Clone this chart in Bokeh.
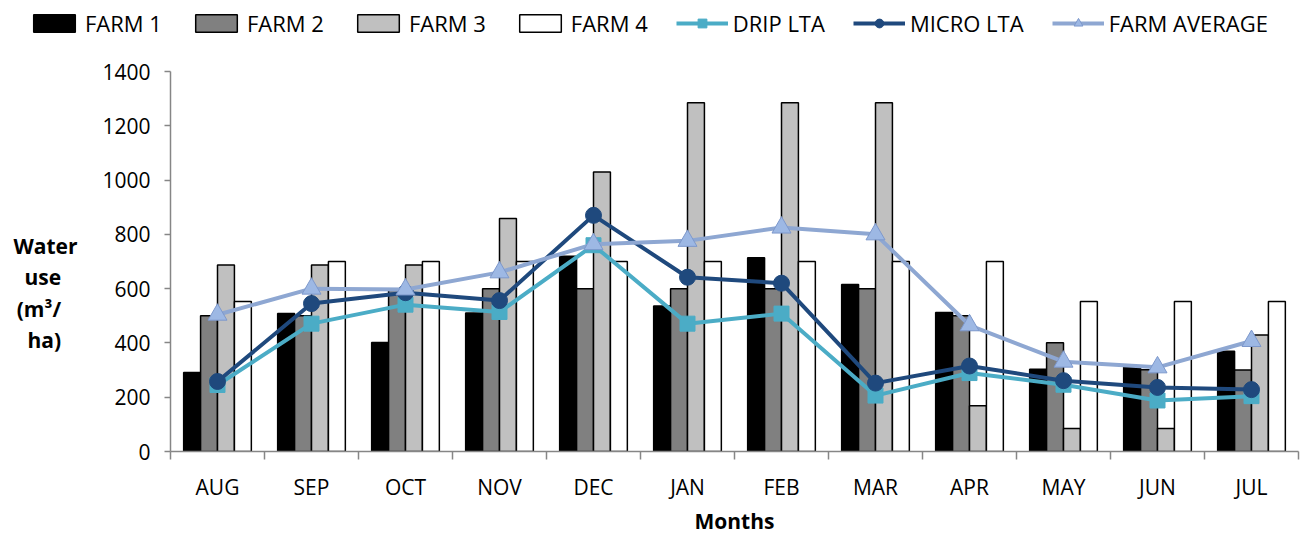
import numpy as np
from bokeh.plotting import figure
from bokeh.layouts import column
from bokeh.models import Range1d, FixedTicker, Legend, LegendItem
from bokeh.embed import file_html
from bokeh.resources import INLINE

months = ["AUG", "SEP", "OCT", "NOV", "DEC", "JAN", "FEB", "MAR", "APR", "MAY", "JUN", "JUL"]
farm1 = [291, 508, 402, 510, 719, 536, 714, 615, 512, 303, 310, 369]
farm2 = [500, 500, 600, 600, 600, 600, 600, 600, 500, 401, 301, 300]
farm3 = [687, 687, 687, 858, 1030, 1285, 1285, 1285, 169, 85, 85, 429]
farm4 = [553, 700, 700, 700, 700, 700, 700, 700, 700, 553, 553, 553]
drip_lta = [245, 471, 541, 514, 760, 471, 508, 206, 289, 246, 188, 204]
micro_lta = [258, 545, 585, 556, 870, 642, 620, 252, 315, 261, 236, 228]
farm_avg = [504, 600, 597, 660, 764, 776, 825, 800, 465, 331, 310, 407]
y_ticks = [0, 200, 400, 600, 800, 1000, 1200, 1400]
NB = "\u00a0"
# y title lines (trailing no-break spaces centre the right-aligned lines; leading blank lines shift it down)
y_title = "\n".join([NB, NB, "Water", "use" + NB * 3, "(m³/" + NB * 3, "ha)" + NB * 3])
bar_labels = ["FARM 1", "FARM 2", "FARM 3", "FARM 4"]
line_labels = ["DRIP LTA", "MICRO LTA", "FARM AVERAGE"]

FONT = "Open Sans"
n = len(months)
xc = np.arange(n) + 0.5

W = 1300
LEG_H = 50
H = 537 - LEG_H
BL, BT, BR = 170, 71 - LEG_H, 2

fills = ["#000000", "#808080", "#C0C0C0", "#FFFFFF"]
line_styles = [
    dict(color="#4BACC6", marker="square", size=15, fill="#4BACC6", outline="#4BACC6"),
    dict(color="#1F497D", marker="circle", size=16, fill="#1F497D", outline="#1F497D"),
    dict(color="#8EA7D2", marker="triangle", size=19, fill="#9DB8E4", outline="#7D98CC"),
]

# ---------------- main chart ----------------
p = figure(width=W, height=H, output_backend="svg", toolbar_location=None,
           x_range=Range1d(0, n), y_range=Range1d(0, 1400),
           min_border_left=BL, min_border_right=BR, min_border_top=BT, min_border_bottom=80)
p.frame_align = False
p.outline_line_color = None
p.xgrid.visible = False
p.ygrid.visible = False

bar_w = 0.18
offs = [-0.27, -0.09, 0.09, 0.27]
for arr, off, fc in zip([farm1, farm2, farm3, farm4], offs, fills):
    p.vbar(x=xc + off, top=arr, width=bar_w, fill_color=fc, line_color="black", line_width=1.5)

for vals, st in zip([drip_lta, micro_lta, farm_avg], line_styles):
    p.line(xc, vals, line_color=st["color"], line_width=4)
    p.scatter(xc, vals, marker=st["marker"], size=st["size"], fill_color=st["fill"],
              line_color=st["outline"], line_width=1)

yax = p.yaxis[0]
yax.ticker = FixedTicker(ticks=y_ticks, minor_ticks=[])
yax.axis_line_color = "#868686"
yax.axis_line_width = 1.5
yax.major_tick_line_color = "#868686"
yax.major_tick_line_width = 1.5
yax.major_tick_out = 6
yax.major_tick_in = 0
yax.minor_tick_line_color = None
yax.major_label_standoff = 14
yax.major_label_text_font = FONT
yax.major_label_text_font_size = "21px"
yax.major_label_text_color = "black"
yax.axis_label = y_title
yax.axis_label_orientation = "horizontal"
yax.axis_label_text_font = FONT
yax.axis_label_text_font_size = "21px"
yax.axis_label_text_font_style = "bold"
yax.axis_label_text_color = "black"
yax.axis_label_text_line_height = 1.12
yax.axis_label_standoff = 22

xax = p.xaxis[0]
xax.ticker = FixedTicker(ticks=list(xc), minor_ticks=list(range(n + 1)))
xax.major_label_overrides = {float(v): m for v, m in zip(xc, months)}
xax.axis_line_color = "#868686"
xax.axis_line_width = 1.5
xax.major_tick_line_color = None
xax.minor_tick_line_color = "#868686"
xax.minor_tick_line_width = 1.5
xax.minor_tick_out = 8
xax.minor_tick_in = 0
xax.major_label_standoff = 13
xax.major_label_text_font = FONT
xax.major_label_text_font_size = "21px"
xax.major_label_text_color = "black"
xax.axis_label = "Months"
xax.axis_label_text_font = FONT
xax.axis_label_text_font_size = "21px"
xax.axis_label_text_font_style = "bold"
xax.axis_label_text_color = "black"
xax.axis_label_standoff = 3

# ---------------- legend strip ----------------
lg = figure(width=W, height=LEG_H, output_backend="svg", toolbar_location=None,
            x_range=Range1d(0, 1), y_range=Range1d(0, 1),
            x_axis_location=None, y_axis_location=None,
            min_border_left=0, min_border_right=0, min_border_top=0, min_border_bottom=0)
lg.frame_align = False
lg.outline_line_color = None
lg.xgrid.visible = False
lg.ygrid.visible = False

# legend-only glyph renderers with empty (NaN) coordinates so that nothing is drawn in the strip
nan1 = np.array([np.nan])
items = []
for lab, fc in zip(bar_labels, fills):
    r = lg.vbar(x=nan1, top=nan1, width=0.1, fill_color=fc, line_color="black", line_width=1.5)
    items.append(LegendItem(label=lab, renderers=[r]))
for lab, st in zip(line_labels, line_styles):
    l = lg.line(x=nan1, y=nan1, line_color=st["color"], line_width=4)
    s = lg.scatter(x=nan1, y=nan1, marker=st["marker"], size=st["size"], fill_color=st["fill"],
                   line_color=st["outline"], line_width=1)
    items.append(LegendItem(label=lab, renderers=[l, s]))

leg = Legend(items=items, orientation="horizontal", location=(28, 12),
             glyph_width=52, glyph_height=22, label_standoff=5, spacing=28,
             padding=0, margin=0, border_line_color=None, background_fill_alpha=0,
             label_text_font=FONT, label_text_font_size="22px", label_text_color="black",
             label_height=22)
lg.add_layout(leg, "center")

layout = column(lg, p, spacing=0)
open("out.html", "w").write(file_html(layout, INLINE))
